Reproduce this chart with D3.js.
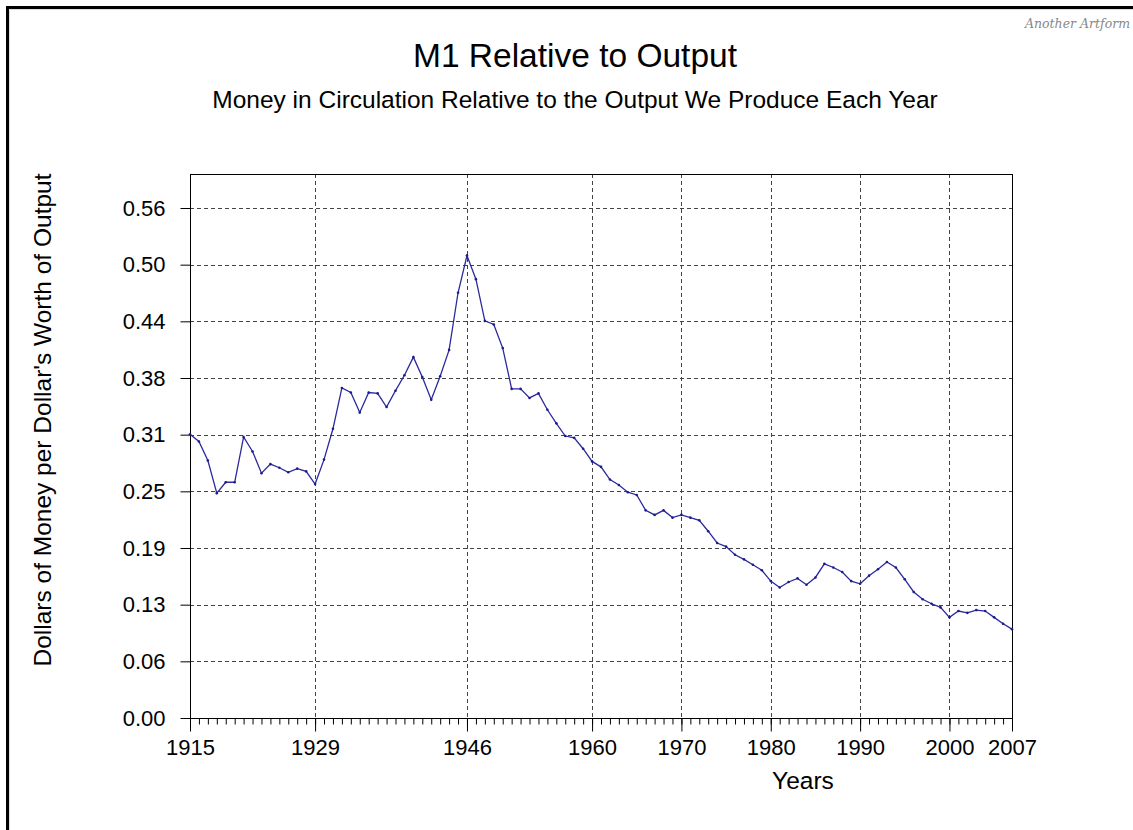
<!DOCTYPE html>
<html lang="en">
<head>
    <meta charset="UTF-8">
    <title>M1 Relative to Output</title>
    <style>
        body { margin: 0; background: #fff; }
        text { font-family: "Liberation Sans", Arial, sans-serif; fill: #000; }
    </style>
</head>
<body>
    <svg width="1133" height="830"></svg>

    <script src="https://d3js.org/d3.v7.min.js"></script>
    <script>
        // M1 / output, one value per year 1915..2007
        let years = d3.range(1915, 2008);
        let m1Ratio = [
            0.313, 0.305, 0.284, 0.248, 0.260, 0.260, 0.310, 0.294, 0.270, 0.280, // 1915-1924
            0.276, 0.271, 0.275, 0.272, 0.258, 0.285, 0.319, 0.364, 0.359, 0.337, // 1925-1934
            0.359, 0.358, 0.343, 0.361, 0.378, 0.398, 0.376, 0.351, 0.377, 0.406, // 1935-1944
            0.469, 0.510, 0.484, 0.438, 0.434, 0.408, 0.363, 0.363, 0.353, 0.358, // 1945-1954
            0.340, 0.325, 0.311, 0.309, 0.297, 0.283, 0.277, 0.263, 0.257, 0.249, // 1955-1964
            0.246, 0.229, 0.224, 0.229, 0.221, 0.224, 0.221, 0.218, 0.206, 0.193, // 1965-1974
            0.189, 0.180, 0.175, 0.169, 0.163, 0.151, 0.144, 0.150, 0.154, 0.147, // 1975-1984
            0.155, 0.170, 0.166, 0.161, 0.151, 0.148, 0.157, 0.164, 0.172, 0.166, // 1985-1994
            0.153, 0.139, 0.131, 0.126, 0.122, 0.111, 0.118, 0.116, 0.119, 0.118, // 1995-2004
            0.111, 0.104, 0.098                                                   // 2005-2007
        ];
        let xMajorTicks = [1915, 1929, 1946, 1960, 1970, 1980, 1990, 2000, 2007];
        let yTickValues = [0, 0.0625, 0.125, 0.1875, 0.25, 0.3125, 0.375, 0.4375, 0.5, 0.5625];
        let yTickLabels = ["0.00", "0.06", "0.13", "0.19", "0.25", "0.31", "0.38", "0.44", "0.50", "0.56"];

        let svg = d3.select("svg");
        let plotLeft = 190, plotRight = 1012, plotTop = 174, plotBottom = 718;

        let x = d3.scaleLinear().domain([1915, 2007]).range([plotLeft, plotRight]);
        let y = d3.scaleLinear().domain([0, 0.6]).range([plotBottom, plotTop]);

        // outer frame (top + left only, like the original image)
        svg.append("path")
            .attr("d", "M7.5,830 L7.5,7.5 L1133,7.5")
            .attr("fill", "none").attr("stroke", "#000").attr("stroke-width", 3);
        svg.append("path")
            .attr("d", "M9.5,830 L9.5,9.5 L1133,9.5")
            .attr("fill", "none").attr("stroke", "#ddd").attr("stroke-width", 1);

        svg.append("text")
            .attr("x", 1130).attr("y", 28)
            .attr("text-anchor", "end")
            .style("font-family", "'DejaVu Serif', serif")
            .style("font-style", "italic")
            .style("font-size", "12.5px")
            .style("fill", "#888")
            .text("Another Artform");

        // titles
        svg.append("text")
            .attr("x", 575).attr("y", 67)
            .attr("text-anchor", "middle")
            .style("font-size", "33.5px")
            .text("M1 Relative to Output");
        svg.append("text")
            .attr("x", 575).attr("y", 108)
            .attr("text-anchor", "middle")
            .style("font-size", "24.5px")
            .text("Money in Circulation Relative to the Output We Produce Each Year");

        // grid
        let gridColor = "#444";
        svg.append("g").selectAll("line")
            .data(yTickValues.filter(d => d > 0))
            .join("line")
            .attr("x1", plotLeft).attr("x2", plotRight)
            .attr("y1", d => Math.round(y(d)) + 0.5).attr("y2", d => Math.round(y(d)) + 0.5)
            .attr("stroke", gridColor).attr("stroke-dasharray", "4,3");
        svg.append("g").selectAll("line")
            .data(xMajorTicks.slice(1, -1))
            .join("line")
            .attr("x1", d => Math.round(x(d)) + 0.5).attr("x2", d => Math.round(x(d)) + 0.5)
            .attr("y1", plotTop).attr("y2", plotBottom)
            .attr("stroke", gridColor).attr("stroke-dasharray", "4,3");

        // plot frame
        svg.append("rect")
            .attr("x", plotLeft + 0.5).attr("y", plotTop + 0.5)
            .attr("width", plotRight - plotLeft).attr("height", plotBottom - plotTop)
            .attr("fill", "none").attr("stroke", "#000");

        // x axis: minor tick each year, major ticks labelled
        let xAxis = svg.append("g").attr("transform", "translate(0," + (plotBottom + 0.5) + ")");
        xAxis.call(d3.axisBottom(x).tickValues(years).tickSize(6).tickFormat(""))
            .call(g => g.select(".domain").remove());
        xAxis.append("g")
            .call(d3.axisBottom(x).tickValues(xMajorTicks).tickSize(13).tickPadding(8).tickFormat(d3.format("d")))
            .call(g => g.select(".domain").remove())
            .call(g => g.selectAll("text").style("font-size", "22px").attr("fill", "#000")
                .style("font-family", "'Liberation Sans', Arial, sans-serif"));

        // y axis
        let yAxis = svg.append("g").attr("transform", "translate(" + (plotLeft + 0.5) + ",0)");
        yAxis.call(d3.axisLeft(y).tickValues(yTickValues).tickSize(10).tickPadding(15)
                .tickFormat((d, i) => yTickLabels[i]))
            .call(g => g.select(".domain").remove())
            .call(g => g.selectAll("text").style("font-size", "22px").attr("fill", "#000")
                .style("font-family", "'Liberation Sans', Arial, sans-serif"));

        // axis titles
        svg.append("text")
            .attr("x", 803).attr("y", 789)
            .attr("text-anchor", "middle")
            .style("font-size", "24.5px")
            .text("Years");
        svg.append("text")
            .attr("transform", "translate(51,420) rotate(-90)")
            .attr("text-anchor", "middle")
            .style("font-size", "24.5px")
            .text("Dollars of Money per Dollar's Worth of Output");

        // series
        let points = years.map((yr, i) => [yr, m1Ratio[i]]);
        let line = d3.line().x(d => x(d[0])).y(d => y(d[1]));
        svg.append("path")
            .datum(points)
            .attr("d", line)
            .attr("fill", "none")
            .attr("stroke", "#2a2a9c")
            .attr("stroke-width", 1.3);
        svg.append("g").selectAll("circle")
            .data(points)
            .join("circle")
            .attr("cx", d => x(d[0])).attr("cy", d => y(d[1]))
            .attr("r", 1.3)
            .attr("fill", "#1c1c8c");
    </script>
</body>
</html>
